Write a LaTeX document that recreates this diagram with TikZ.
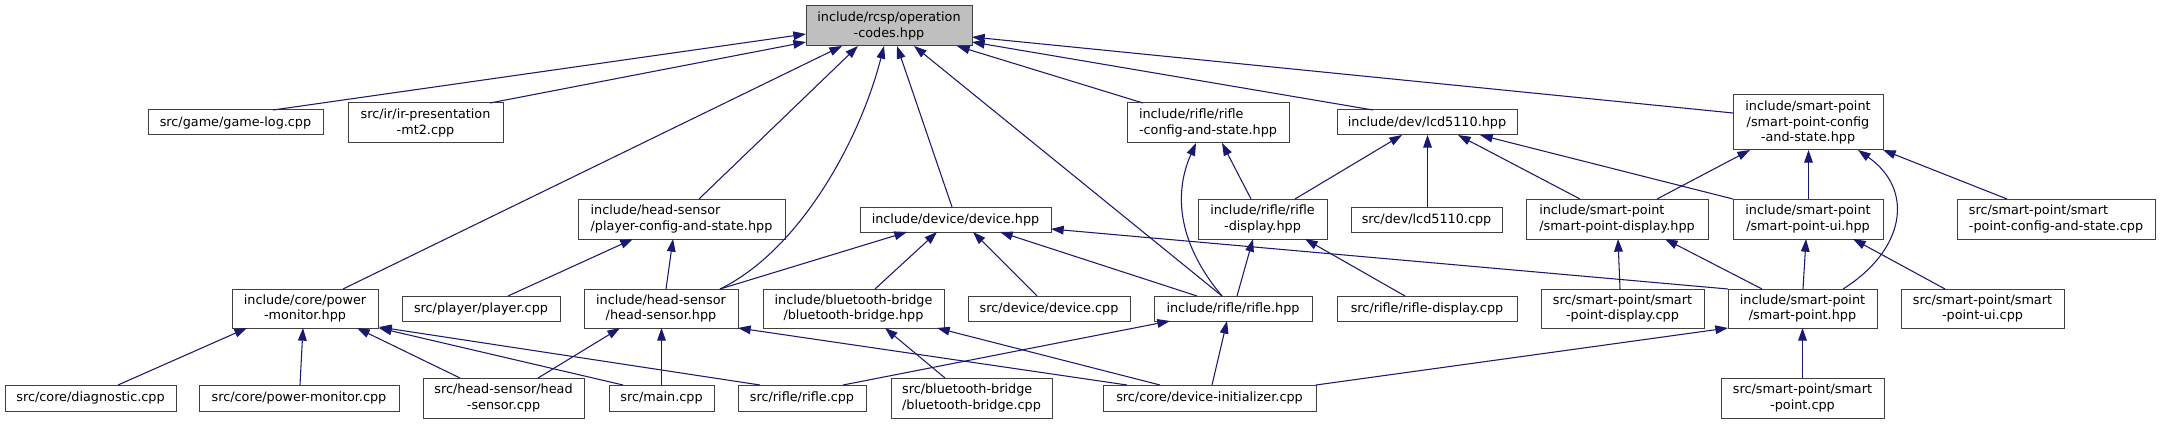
\documentclass[tikz,border=0pt]{standalone}
\usepackage{fontspec}
\setmainfont{DejaVu Sans}
\usetikzlibrary{calc,arrows.meta}
\definecolor{midblue}{HTML}{191970}
\definecolor{boxline}{HTML}{404040}
\definecolor{rootfill}{HTML}{BFBFBF}
\tikzset{
  box/.style={draw=boxline,line width=0.75pt,fill=white,inner sep=0pt,outer sep=0pt,
    font=\fontsize{9.6}{11.7}\selectfont},
  rootbox/.style={fill=rootfill},
  edge/.style={draw=midblue,line width=0.8pt,-{Triangle[length=9.5pt,width=6.5pt]}}
}
\newcommand{\bx}[7]{\node[box,#6,minimum width={(#4-#2)*0.75pt},minimum height={(#5-#3)*0.75pt}] (#1) at ({(#2+#4)/2},{(#3+#5)/2}) {#7};}
\newcommand{\ed}[6]{\draw[edge] ($(#1.north west)+(#2,#3)$) -- ($(#4.north west)+(#5,#6)$);}
\begin{document}
\begin{tikzpicture}[x=0.75pt,y=-0.75pt]
\useasboundingbox (0,0) rectangle (2161,424);
% nodes
\bx{oc}{806}{6}{972}{46}{rootbox,align=center}{include/rcsp/operation\\-codes.hpp}
\bx{gamelog}{148}{110}{323}{135}{}{src/game/game-log.cpp}
\bx{irp}{348}{103}{503}{143}{align=center}{src/ir/ir-presentation\\-mt2.cpp}
\bx{pmh}{232}{289}{378}{328}{align=center}{include/core/power\\-monitor.hpp}
\bx{diag}{5}{385}{176}{411}{}{src/core/diagnostic.cpp}
\bx{pmc}{199}{385}{399}{411}{}{src/core/power-monitor.cpp}
\bx{pcs}{578}{199}{785}{239}{align=left}{include/head-sensor\\/player-config-and-state.hpp}
\bx{player}{402}{296}{560}{321}{}{src/player/player.cpp}
\bx{hsh}{584}{289}{738}{328}{align=center}{include/head-sensor\\/head-sensor.hpp}
\bx{hsc}{423}{378}{584}{418}{align=center}{src/head-sensor/head\\-sensor.cpp}
\bx{main}{609}{385}{714}{411}{}{src/main.cpp}
\bx{riflecpp}{738}{385}{866}{411}{}{src/rifle/rifle.cpp}
\bx{dev}{860}{207}{1051}{232}{}{include/device/device.hpp}
\bx{bbh}{763}{289}{944}{328}{align=center}{include/bluetooth-bridge\\/bluetooth-bridge.hpp}
\bx{devcpp}{968}{296}{1130}{321}{}{src/device/device.cpp}
\bx{bbc}{891}{378}{1052}{418}{align=left}{src/bluetooth-bridge\\/bluetooth-bridge.cpp}
\bx{devinit}{1103}{385}{1316}{411}{}{src/core/device-initializer.cpp}
\bx{rcs}{1127}{103}{1289}{143}{align=left}{include/rifle/rifle\\-config-and-state.hpp}
\bx{lcd}{1337}{110}{1517}{135}{}{include/dev/lcd5110.hpp}
\bx{rdh}{1198}{199}{1327}{239}{align=center}{include/rifle/rifle\\-display.hpp}
\bx{lcdcpp}{1351}{207}{1502}{232}{}{src/dev/lcd5110.cpp}
\bx{rifleh}{1154}{296}{1312}{321}{}{include/rifle/rifle.hpp}
\bx{rdc}{1337}{296}{1517}{321}{}{src/rifle/rifle-display.cpp}
\bx{spcs}{1733}{95}{1883}{150}{align=center}{include/smart-point\\/smart-point-config\\-and-state.hpp}
\bx{spd}{1526}{199}{1708}{239}{align=left}{include/smart-point\\/smart-point-display.hpp}
\bx{spui}{1733}{199}{1883}{239}{align=center}{include/smart-point\\/smart-point-ui.hpp}
\bx{spdc}{1541}{289}{1704}{328}{align=center}{src/smart-point/smart\\-point-display.cpp}
\bx{sph}{1728}{289}{1877}{328}{align=center}{include/smart-point\\/smart-point.hpp}
\bx{spc}{1721}{378}{1884}{418}{align=center}{src/smart-point/smart\\-point.cpp}
\bx{spcsc}{1957}{199}{2155}{239}{align=left}{src/smart-point/smart\\-point-config-and-state.cpp}
\bx{spuic}{1901}{289}{2064}{328}{align=center}{src/smart-point/smart\\-point-ui.cpp}
% edges: child -> parent
\ed{gamelog}{125}{0}{oc}{0}{28}
\ed{irp}{142}{0}{oc}{0}{36}
\ed{pmh}{111}{0}{oc}{36}{40}
\ed{pcs}{121}{0}{oc}{52}{40}
\draw[edge] ($(hsh.north west)+(136,0)$) .. controls +(80,-39) and +(-24,94) .. ($(oc.north west)+(78,40)$);
\ed{dev}{92}{0}{oc}{91}{40}
\ed{rifleh}{68}{0}{oc}{108}{40}
\ed{rcs}{16}{0}{oc}{151}{40}
\ed{lcd}{36}{0}{oc}{166}{36}
\ed{spcs}{0}{18}{oc}{166}{31}
\ed{diag}{113}{0}{pmh}{15}{39}
\ed{pmc}{101}{0}{pmh}{71}{39}
\ed{hsc}{37}{0}{pmh}{125}{39}
\ed{main}{14}{0}{pmh}{147}{39}
\ed{riflecpp}{22}{0}{pmh}{147}{38}
\ed{hsc}{115}{0}{hsh}{36}{39}
\ed{main}{52.5}{0}{hsh}{77.5}{39}
\ed{devinit}{24}{0}{hsh}{154}{39}
\ed{hsh}{82}{0}{pcs}{95}{40}
\ed{player}{106}{0}{pcs}{55}{40}
\ed{hsh}{136}{0}{dev}{47}{25}
\ed{bbh}{112}{0}{dev}{77}{25}
\ed{devcpp}{69}{0}{dev}{113}{25}
\ed{rifleh}{43}{0}{dev}{140}{25}
\ed{sph}{0}{0}{dev}{191}{22}
\ed{bbc}{54}{0}{bbh}{122}{39}
\ed{devinit}{57}{0}{bbh}{174}{39}
\ed{riflecpp}{105}{0}{rifleh}{16}{25}
\ed{devinit}{109}{0}{rifleh}{73}{25}
\ed{rifleh}{83}{0}{rdh}{55}{40}
\draw[edge] ($(rifleh.north west)+(68,0)$) .. controls +(-47,-56) and +(-21,47) .. ($(rcs.north west)+(69,40)$);
\ed{rdh}{53}{0}{rcs}{95}{40}
\ed{rdh}{97}{0}{lcd}{65}{25}
\ed{rdc}{68}{0}{rdh}{107}{40}
\ed{lcdcpp}{76.5}{0}{lcd}{90.5}{25}
\ed{spd}{54}{0}{lcd}{121}{25}
\ed{spui}{0}{0}{lcd}{143}{25}
\ed{spd}{131}{0}{spcs}{17}{55}
\ed{spui}{75.5}{0}{spcs}{75.5}{55}
\draw[edge] ($(sph.north west)+(115,0)$) .. controls +(62,-39) and +(57,40) .. ($(spcs.north west)+(125,55)$);
\ed{spcsc}{50}{0}{spcs}{150}{55}
\ed{spdc}{79}{0}{spd}{92}{40}
\ed{sph}{34}{0}{spd}{139}{40}
\ed{sph}{75}{0}{spui}{73}{40}
\ed{spuic}{44}{0}{spui}{120}{40}
\ed{spc}{81.5}{0}{sph}{74.5}{39}
\ed{devinit}{213}{0}{sph}{0}{39}
\end{tikzpicture}
\end{document}
